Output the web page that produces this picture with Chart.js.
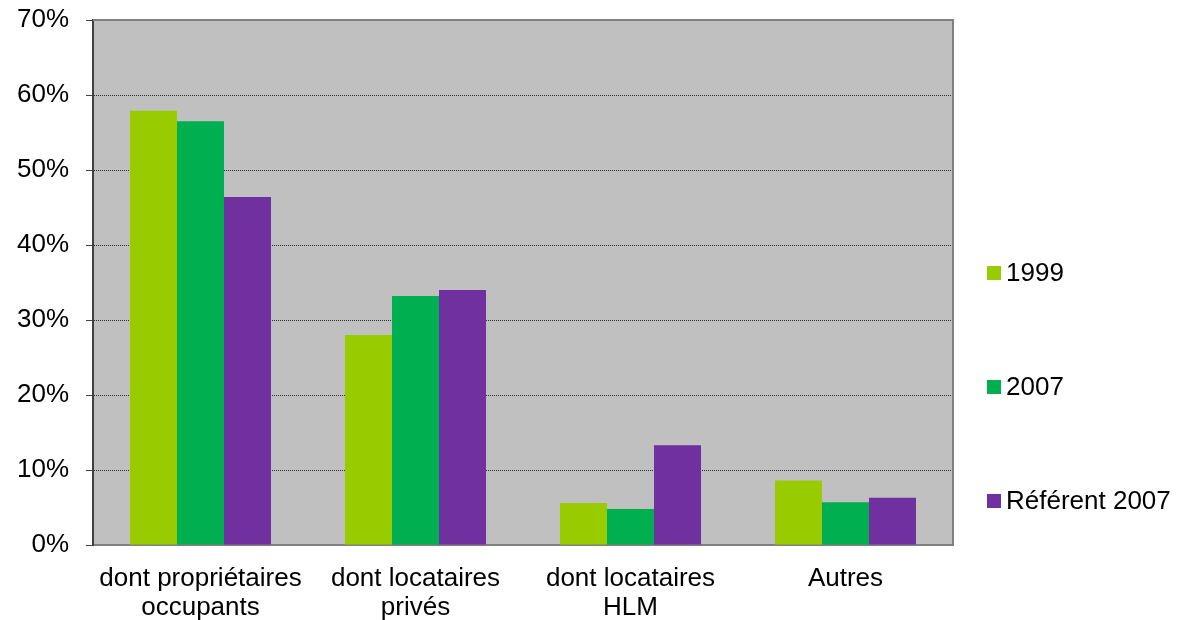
<!DOCTYPE html>
<html>
<head>
<meta charset="utf-8">
<script src="https://cdn.jsdelivr.net/npm/chart.js@4"></script>
<style>
  html, body { margin: 0; padding: 0; background: #fff; }
  #wrap { width: 1187px; height: 620px; }
</style>
</head>
<body>
<div id="wrap"><canvas id="graphique"></canvas></div>
<script>
// Catégories (axe X, sur deux lignes)
var categories = [
    ['dont propriétaires', 'occupants'],
    ['dont locataires', 'privés'],
    ['dont locataires', 'HLM'],
    ['Autres']
];

// Séries (en %)
var serie1999 = [57.9, 28.0, 5.6, 8.6];
var serie2007 = [56.5, 33.2, 4.8, 5.7];
var serieReferent = [46.4, 34.0, 13.3, 6.3];

var nomsSeries = ['1999', '2007', 'Référent 2007'];
var couleurs = ['#99CC00', '#00B050', '#7030A0'];

// Graduations de l'axe Y
var graduationsY = [0, 10, 20, 30, 40, 50, 60, 70];

var police = 'Arial, "Liberation Sans", sans-serif';

// Fond gris de la zone de tracé + cadre haut/droite
var fondZone = {
    id: 'fondZone',
    beforeDraw: function (chart) {
        var a = chart.chartArea, ctx = chart.ctx;
        ctx.save();
        ctx.fillStyle = '#C0C0C0';
        ctx.fillRect(a.left, a.top, a.right - a.left, a.bottom - a.top);
        ctx.restore();
    },
    afterDraw: function (chart) {
        var a = chart.chartArea, ctx = chart.ctx;
        ctx.save();
        ctx.strokeStyle = '#808080';
        ctx.lineWidth = 2;
        ctx.beginPath();
        ctx.moveTo(a.left, a.top);
        ctx.lineTo(a.right, a.top);
        ctx.lineTo(a.right, a.bottom);
        ctx.stroke();
        ctx.restore();
    }
};

// Légende à droite, items espacés comme sur l'original
var legendeDroite = {
    id: 'legendeDroite',
    afterDraw: function (chart) {
        var ctx = chart.ctx;
        ctx.save();
        ctx.font = '26px ' + police;
        ctx.textBaseline = 'middle';
        ctx.textAlign = 'left';
        chart.data.datasets.forEach(function (ds, i) {
            var y = 273 + i * 114;
            ctx.fillStyle = ds.backgroundColor;
            ctx.fillRect(987, y - 7, 14, 14);
            ctx.fillStyle = '#000';
            ctx.fillText(ds.label, 1006, y + 1);
        });
        ctx.restore();
    }
};

var ctx = document.getElementById('graphique').getContext('2d');

new Chart(ctx, {
    type: 'bar',
    data: {
        labels: categories,
        datasets: [
            { label: nomsSeries[0], data: serie1999, backgroundColor: couleurs[0] },
            { label: nomsSeries[1], data: serie2007, backgroundColor: couleurs[1] },
            { label: nomsSeries[2], data: serieReferent, backgroundColor: couleurs[2] }
        ]
    },
    options: {
        responsive: true,
        maintainAspectRatio: false,
        animation: false,
        layout: { padding: { top: 20, right: 234, left: 0, bottom: 0 } },
        datasets: {
            bar: { categoryPercentage: 0.656, barPercentage: 1.0 }
        },
        plugins: {
            legend: { display: false },
            tooltip: { enabled: false }
        },
        scales: {
            x: {
                grid: { drawOnChartArea: false, drawTicks: false },
                border: { display: true, color: '#808080', width: 2 },
                ticks: {
                    color: '#000',
                    padding: 19,
                    maxRotation: 0,
                    autoSkip: false,
                    font: { family: police, size: 26, lineHeight: 1.12 }
                },
                afterFit: function (scale) {
                    scale.height = 75;
                    scale.paddingLeft = 0;
                    scale.paddingRight = 0;
                }
            },
            y: {
                min: 0,
                max: 70,
                afterBuildTicks: function (scale) {
                    scale.ticks = graduationsY.map(function (v) { return { value: v }; });
                },
                grid: {
                    color: '#303030',
                    lineWidth: 1,
                    tickLength: 7,
                    tickColor: '#404040',
                    tickWidth: 1
                },
                border: { display: true, color: '#404040', width: 2, dash: [1, 1] },
                ticks: {
                    color: '#000',
                    padding: 17,
                    font: { family: police, size: 26 },
                    callback: function (v) { return v + '%'; }
                },
                afterFit: function (scale) {
                    scale.width = 93;
                    scale.paddingTop = 0;
                    scale.paddingBottom = 0;
                }
            }
        }
    },
    plugins: [fondZone, legendeDroite]
});
</script>
</body>
</html>
